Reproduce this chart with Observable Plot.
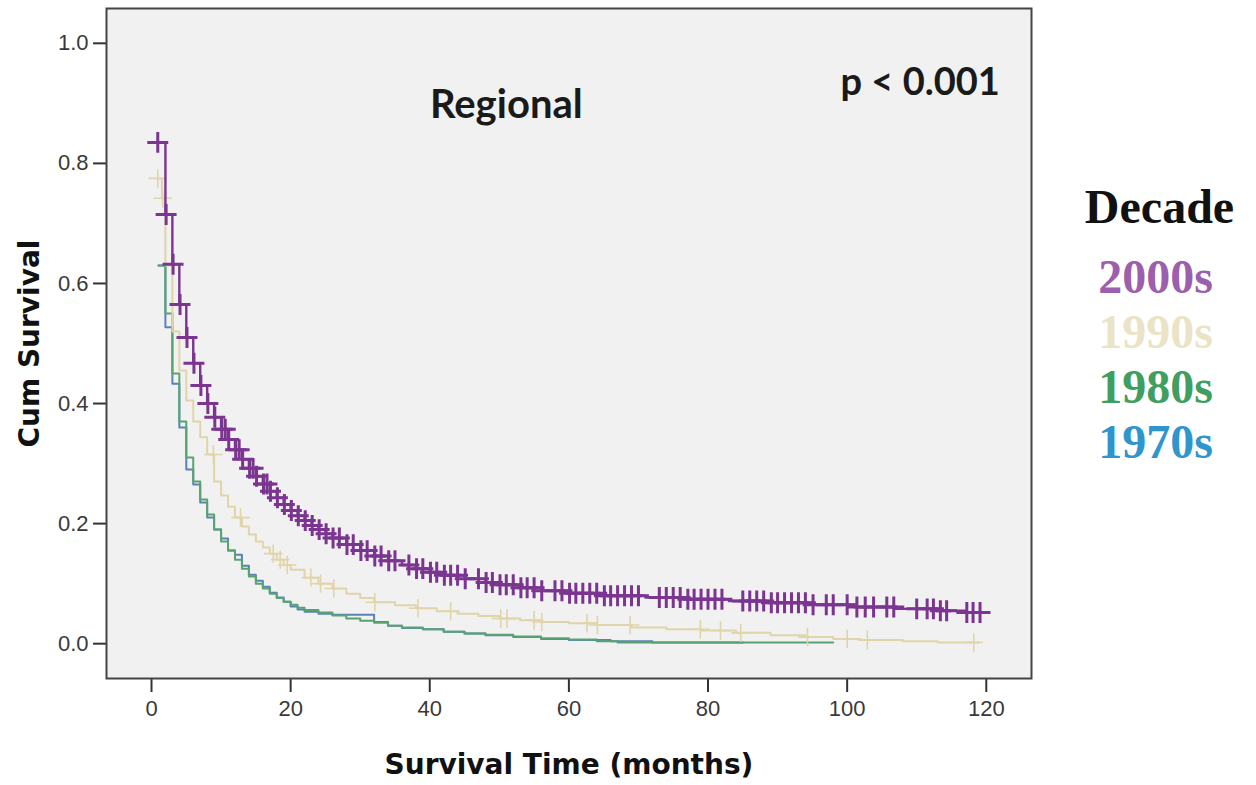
<!DOCTYPE html>
<html>
<head>
<meta charset="utf-8">
<script src="https://cdn.jsdelivr.net/npm/d3@7"></script>
<script src="https://cdn.jsdelivr.net/npm/@observablehq/plot@0.6"></script>
<style>
  html, body { margin: 0; padding: 0; background: #ffffff; }
  #chart { width: 1256px; height: 785px; }
</style>
</head>
<body>
<div id="chart"></div>
<script>
// ---- Data ----
const decades = ["2000s", "1990s", "1980s", "1970s"];
const lineColors = ["#7b3591", "#e0d5a8", "#58a470", "#5b82b4"];
const legendColors = ["#9b5fae", "#ebe3c6", "#3f9e60", "#2f95cc"];

const xTicks = [0, 20, 40, 60, 80, 100, 120];
const yTicks = [0, 0.2, 0.4, 0.6, 0.8, 1.0];

// 2000s
const t2000 = [0.8, 2, 3, 4, 5, 6, 7, 8, 9, 10, 11, 12, 13, 14, 15, 16, 17, 18, 19, 20, 21, 22, 23, 24, 25, 26, 28, 30, 32, 34, 36, 38, 40, 42, 45, 48, 50, 53, 56, 60, 65, 71, 77, 83, 89, 95, 101, 107, 113, 117, 120];
const s2000 = [0.835, 0.715, 0.632, 0.565, 0.51, 0.467, 0.43, 0.40, 0.377, 0.357, 0.34, 0.323, 0.307, 0.292, 0.279, 0.266, 0.254, 0.243, 0.232, 0.222, 0.213, 0.205, 0.197, 0.19, 0.183, 0.176, 0.165, 0.155, 0.146, 0.138, 0.131, 0.125, 0.119, 0.114, 0.108, 0.102, 0.098, 0.093, 0.088, 0.084, 0.080, 0.077, 0.074, 0.071, 0.068, 0.065, 0.061, 0.058, 0.055, 0.052, 0.052];
const c2000 = [0.9, 2.1, 3.1, 4.1, 5.1, 6.1, 7.1, 8.1, 9.1, 10.1, 10.6, 11.1, 12.1, 12.6, 13.1, 14.1, 14.6, 15.1, 16.1, 16.6, 17.1, 18.1, 19.1, 20.1, 21.1, 22.1, 23.1, 24.1, 25.1, 26.1, 27, 28.1, 29, 30.1, 31, 32.1, 33, 34.1, 35, 37, 38.1, 39, 40.1, 41, 42.1, 43, 44, 45.1, 47, 48.1, 49, 50.1, 51, 52, 53.1, 54, 55, 56.1, 58, 59, 60.1, 61, 62, 63, 64, 65.1, 66, 67, 68, 69, 70, 73, 74, 75, 76, 77.1, 78, 79, 80, 81, 82, 85, 86, 87, 88, 89.1, 90, 91, 92, 93, 94, 95.1, 97, 98, 100, 101.4, 102.6, 103.8, 105.7, 106.7, 110, 111.5, 112.4, 113.4, 114.3, 117.2, 118.1, 119.1];

// 1990s
const t1990 = [0.8, 1.5, 2, 3, 4, 5, 6, 7, 8, 9, 10, 11, 12, 13, 14, 15, 16, 17, 18, 19, 20, 22, 24, 26, 28, 30, 32, 35, 38, 41, 44, 47, 50, 53, 56, 60, 64, 69, 74, 79, 84, 89, 94, 98, 102, 108, 113, 119];
const s1990 = [0.775, 0.742, 0.63, 0.52, 0.455, 0.405, 0.37, 0.344, 0.315, 0.27, 0.247, 0.228, 0.21, 0.195, 0.182, 0.17, 0.16, 0.15, 0.14, 0.131, 0.123, 0.11, 0.10, 0.092, 0.083, 0.076, 0.069, 0.064, 0.059, 0.054, 0.05, 0.046, 0.042, 0.039, 0.036, 0.034, 0.031, 0.027, 0.024, 0.022, 0.018, 0.014, 0.011, 0.008, 0.006, 0.004, 0.002, 0.002];
const c1990 = [0.9, 1.6, 8.9, 12.8, 17.5, 18.5, 19.5, 22.9, 24.3, 26.2, 32.1, 38.3, 43, 50.2, 51.1, 55, 56.1, 62.6, 64.1, 68.8, 78.9, 81.8, 84.7, 94.3, 100, 102.9, 118.2];

// 1980s
const t1980 = [1, 2, 3, 4, 5, 6, 7, 8, 9, 10, 11, 12, 13, 14, 15, 16, 17, 18, 19, 20, 21, 22, 24, 26, 28, 30, 32, 34, 36, 39, 42, 45, 48, 52, 56, 60, 64, 67, 98];
const s1980 = [0.63, 0.55, 0.45, 0.37, 0.31, 0.27, 0.24, 0.215, 0.19, 0.17, 0.155, 0.14, 0.125, 0.112, 0.10, 0.092, 0.083, 0.076, 0.07, 0.065, 0.06, 0.056, 0.052, 0.047, 0.042, 0.038, 0.035, 0.030, 0.027, 0.024, 0.020, 0.017, 0.015, 0.012, 0.009, 0.007, 0.004, 0.002, 0.002];

// 1970s
const t1970 = [1, 2, 3, 4, 5, 6, 7, 8, 9, 10, 11, 12, 13, 14, 15, 16, 17, 18, 19, 20, 21, 22, 24, 26, 32, 34, 36, 39, 42, 45, 48, 52, 56, 60, 66, 72, 85];
const s1970 = [0.63, 0.527, 0.433, 0.36, 0.29, 0.265, 0.235, 0.21, 0.19, 0.175, 0.155, 0.148, 0.13, 0.115, 0.105, 0.095, 0.085, 0.077, 0.07, 0.062, 0.057, 0.053, 0.05, 0.048, 0.036, 0.030, 0.026, 0.024, 0.020, 0.017, 0.014, 0.011, 0.008, 0.006, 0.004, 0.002, 0.002];

// ---- Build tables ----
const series = [
  {decade: decades[0], t: t2000, s: s2000, c: c2000},
  {decade: decades[1], t: t1990, s: s1990, c: c1990},
  {decade: decades[2], t: t1980, s: s1980, c: []},
  {decade: decades[3], t: t1970, s: s1970, c: []}
];
function stepValue(ts, ss, t) {
  let v = ss[0];
  for (let i = 0; i < ts.length; i++) { if (ts[i] <= t) v = ss[i]; else break; }
  return v;
}
const lines = series.map(d => d.t.map((t, i) => ({decade: d.decade, t, s: d.s[i]})));
const censors = series.map(d => d.c.map(t => ({decade: d.decade, t, s: stepValue(d.t, d.s, t)})));

const sansTick = "'Liberation Sans', Arial, sans-serif";
const sansTitle = "'DejaVu Sans', Verdana, sans-serif";
const sansNote = "Lato, 'Open Sans', sans-serif";
const serif = "'Liberation Serif', 'Times New Roman', serif";

const plot = Plot.plot({
  width: 1256,
  height: 785,
  marginLeft: 106,
  marginRight: 225,
  marginTop: 8,
  marginBottom: 107,
  style: {background: "#ffffff", overflow: "visible"},
  x: {domain: [-6.47, 126.5], label: null},
  y: {domain: [-0.058, 1.058], label: null},
  marks: [
    Plot.frame({fill: "#f1f1f1", stroke: "none"}),
    Plot.axisX({ticks: xTicks, tickSize: 14, tickPadding: 8, fontSize: 22, fontFamily: sansTick, color: "#3a3a3a", stroke: "#333", strokeWidth: 2, label: null}),
    Plot.axisY({ticks: yTicks, tickFormat: d3.format(".1f"), tickSize: 13, tickPadding: 5, fontSize: 22, fontFamily: sansTick, color: "#3a3a3a", stroke: "#333", strokeWidth: 2, label: null}),
    // curves (drawn back to front)
    Plot.line(lines[3], {x: "t", y: "s", curve: "step-after", stroke: lineColors[3], strokeWidth: 2}),
    Plot.line(lines[2], {x: "t", y: "s", curve: "step-after", stroke: lineColors[2], strokeWidth: 2}),
    Plot.line(lines[1], {x: "t", y: "s", curve: "step-after", stroke: lineColors[1], strokeWidth: 2}),
    Plot.dot(censors[1], {x: "t", y: "s", symbol: "plus", r: 6, stroke: lineColors[1], strokeWidth: 1.6}),
    Plot.line(lines[0], {x: "t", y: "s", curve: "step-after", stroke: lineColors[0], strokeWidth: 2.4}),
    Plot.dot(censors[0], {x: "t", y: "s", symbol: "plus", r: 6.8, stroke: lineColors[0], strokeWidth: 3}),
    Plot.frame({stroke: "#444", strokeWidth: 2}),
    // annotations
    Plot.text(["Regional"], {x: 51, y: 0.897, text: d => d, fontSize: 40, fontWeight: "bold", fontFamily: sansNote, fill: "#1a1a1a"}),
    Plot.text(["p < 0.001"], {x: 110.5, y: 0.934, text: d => d, fontSize: 38, fontWeight: "bold", fontFamily: sansNote, fill: "#1a1a1a"}),
    // axis titles
    Plot.text(["Survival Time (months)"], {frameAnchor: "bottom", dy: 95, text: d => d, fontSize: 28, fontWeight: "bold", fontFamily: sansTitle, fill: "#111"}),
    Plot.text(["Cum Survival"], {frameAnchor: "left", dx: -76, rotate: -90, textAnchor: "middle", text: d => d, fontSize: 28, fontWeight: "bold", fontFamily: sansTitle, fill: "#111"}),
    // legend
    Plot.text(["Decade"], {frameAnchor: "top-right", dx: 128, dy: 180, textAnchor: "middle", text: d => d, fontSize: 48, fontWeight: "bold", fontFamily: serif, fill: "#111"}),
    ...decades.map((d, i) => Plot.text([d], {frameAnchor: "top-right", dx: 124, dy: 250 + i * 55, textAnchor: "middle", text: v => v, fontSize: 48, fontWeight: "bold", fontFamily: serif, fill: legendColors[i]}))
  ]
});
document.getElementById("chart").appendChild(plot);
</script>
</body>
</html>
